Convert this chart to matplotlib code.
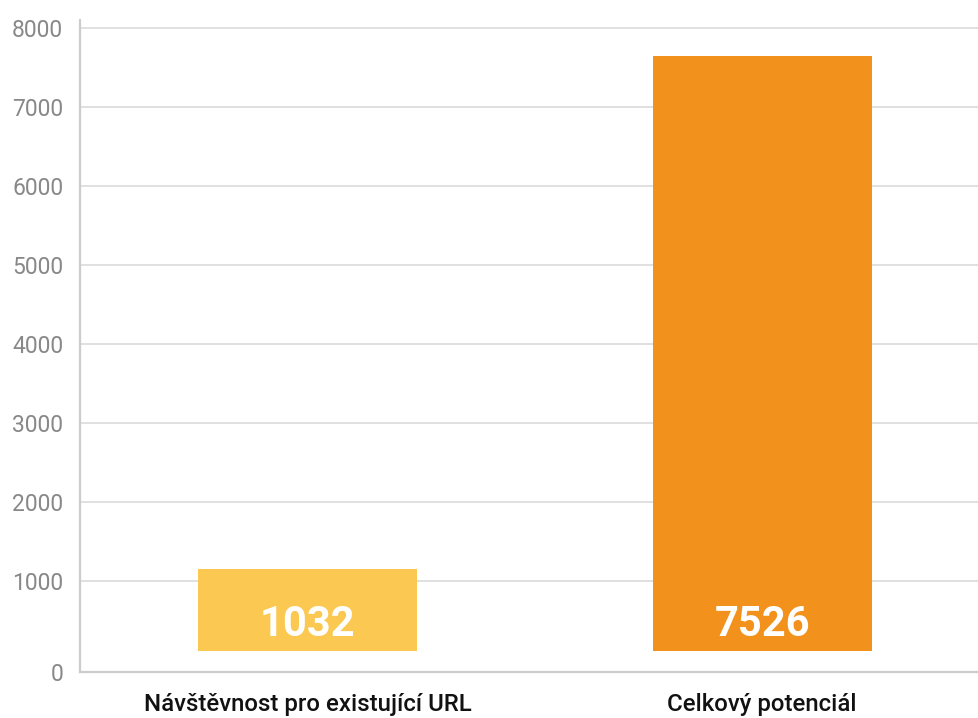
import matplotlib.pyplot as plt

# chart data
categories = ['Návštěvnost pro existující URL', 'Celkový potenciál']
values = [1032, 7526]
colors = ['#FBC851', '#F2921C']
y_ticks = [1000, 2000, 3000, 4000, 5000, 6000, 7000, 8000]

plt.rcParams['font.family'] = ['Roboto', 'DejaVu Sans']

fig = plt.figure(figsize=(9.79, 7.18), dpi=100)
ax = fig.add_axes([0.0817, 0.064, 0.9183, 0.908])

# visible axis with grid; the "0" label sits on the baseline
y_bottom = -152
ax.set_ylim(y_bottom, 8101)
ax.set_xlim(-0.5005, 1.477)
ax.set_yticks([y_bottom] + y_ticks)
ax.set_yticklabels(['0'] + [str(t) for t in y_ticks], color='#888888', fontsize=16.5)
ax.set_xticks(range(len(categories)))
ax.set_xticklabels(categories, fontsize=17.3, color='#111111', fontweight='medium')
ax.tick_params(axis='both', length=0)
ax.tick_params(axis='y', pad=12)
ax.tick_params(axis='x', pad=15)
ax.grid(axis='y', color='#dadada', linewidth=1.2)
ax.set_axisbelow(True)
for s in ['top', 'right']:
    ax.spines[s].set_visible(False)
for s in ['left', 'bottom']:
    ax.spines[s].set_color('#cccccc')
    ax.spines[s].set_linewidth(1.6)

# bars sit on their own scale, slightly raised above the baseline
bx = ax.twinx()
bx.set_ylim(-265, 7977)
bx.set_xlim(ax.get_xlim())
bx.axis('off')
bars = bx.bar(range(len(categories)), values, width=0.482, color=colors)

for rect, v in zip(bars, values):
    bx.annotate(str(v), xy=(rect.get_x() + rect.get_width() / 2, 0),
                xytext=(0, 19), textcoords='offset points',
                ha='center', va='center', color='white',
                fontsize=30, fontweight='bold')

fig.savefig('out.png', dpi=100)
